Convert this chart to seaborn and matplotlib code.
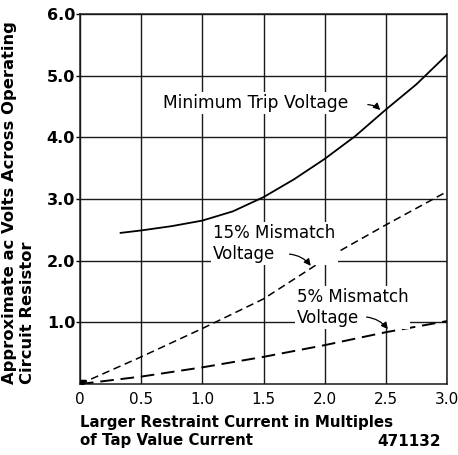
import matplotlib
matplotlib.use("Agg")
import matplotlib.pyplot as plt
import seaborn as sns
import pandas as pd

# ---- data ----
trip_x = [0.33, 0.5, 0.75, 1.0, 1.25, 1.5, 1.75, 2.0, 2.25, 2.5, 2.75, 3.0]
trip_y = [2.45, 2.49, 2.56, 2.65, 2.80, 3.03, 3.32, 3.65, 4.02, 4.45, 4.86, 5.34]

mis15_x = [0.0, 0.5, 1.0, 1.5, 2.0, 2.5, 3.0]
mis15_y = [0.0, 0.44, 0.90, 1.38, 2.02, 2.58, 3.12]

mis5_x = [0.0, 0.5, 1.0, 1.5, 2.0, 2.5, 3.0]
mis5_y = [0.0, 0.12, 0.27, 0.44, 0.63, 0.84, 1.02]

x_ticks = [0, 0.5, 1.0, 1.5, 2.0, 2.5, 3.0]
x_ticklabels = ["0", "0.5", "1.0", "1.5", "2.0", "2.5", "3.0"]
y_ticks = [1.0, 2.0, 3.0, 4.0, 5.0, 6.0]
y_ticklabels = ["1.0", "2.0", "3.0", "4.0", "5.0", "6.0"]

sns.set_theme(style="white")
plt.rcParams["font.family"] = ["DejaVu Sans"]
plt.rcParams["text.color"] = "black"

fig = plt.figure(figsize=(4.58, 4.55), dpi=100)
ax = fig.add_axes([80/458, 1-384/455, (447-80)/458, (384-14)/455])

df_trip = pd.DataFrame({"x": trip_x, "y": trip_y})
df15 = pd.DataFrame({"x": mis15_x, "y": mis15_y})
df5 = pd.DataFrame({"x": mis5_x, "y": mis5_y})

sns.lineplot(data=df_trip, x="x", y="y", ax=ax, color="black", lw=1.3, zorder=4)
sns.lineplot(data=df15, x="x", y="y", ax=ax, color="black", lw=1.1, zorder=4)
ax.lines[-1].set_dashes((5, 3))
sns.lineplot(data=df5, x="x", y="y", ax=ax, color="black", lw=1.4, zorder=4)
ax.lines[-1].set_dashes((7, 3.5))

ax.set_xlim(0, 3.0)
ax.set_ylim(0, 6.0)
ax.set_xticks(x_ticks)
ax.set_xticklabels(x_ticklabels)
ax.set_yticks(y_ticks)
ax.set_yticklabels(y_ticklabels, fontweight="bold")
ax.set_xlabel("")
ax.set_ylabel("")
ax.tick_params(axis="x", length=0, pad=6, labelsize=11, colors="black")
ax.tick_params(axis="y", length=3, width=1, pad=0.5, labelsize=11.5, colors="black", left=True)

ax.grid(True, color="#1a1a1a", lw=1.0)
ax.set_axisbelow(True)
for s in ax.spines.values():
    s.set_color("#1a1a1a")
    s.set_linewidth(1.1)

# small arrowhead at origin
ax.plot([0.02], [0.03], marker=(3, 0, 60), color="black", ms=6, zorder=5)

box = dict(fc="white", ec="none", pad=1.5)
arrow = dict(arrowstyle="-|>", lw=0.9, color="black", mutation_scale=10,
             connectionstyle="arc3,rad=-0.25")

ax.text(0.68, 4.55, "Minimum Trip Voltage", fontsize=12.3, va="center", ha="left",
        color="black", bbox=box, zorder=6)
ax.annotate("", xy=(2.47, 4.41), xytext=(2.33, 4.53), arrowprops=arrow, zorder=6)

ax.text(1.09, 2.28, "15% Mismatch\nVoltage", fontsize=12, va="center", ha="left",
        color="black", linespacing=1.25, bbox=box, zorder=6)
ax.annotate("", xy=(1.90, 1.88), xytext=(1.69, 2.11), arrowprops=arrow, zorder=6)

ax.text(1.77, 1.24, "5% Mismatch\nVoltage", fontsize=12, va="center", ha="left",
        color="black", linespacing=1.15, bbox=box, zorder=6)
ax.annotate("", xy=(2.53, 0.85), xytext=(2.32, 1.09), arrowprops=arrow, zorder=6)

fig.text(80/458, 1-422/455, "Larger Restraint Current in Multiples", fontsize=10.8,
         fontweight="bold", ha="left", va="center", color="black")
fig.text(80/458, 1-441/455, "of Tap Value Current", fontsize=10.8,
         fontweight="bold", ha="left", va="center", color="black")
fig.text(441/458, 1-441/455, "471132", fontsize=11, fontweight="bold", ha="right",
         va="center", color="black")

fig.text(10/458, 1-384/455, "Approximate ac Volts Across Operating", fontsize=11.8,
         fontweight="bold", rotation=90, ha="center", va="bottom", color="black")
fig.text(28/458, 1-384/455, "Circuit Resistor", fontsize=11.8,
         fontweight="bold", rotation=90, ha="center", va="bottom", color="black")

fig.savefig("out.png", dpi=100)
